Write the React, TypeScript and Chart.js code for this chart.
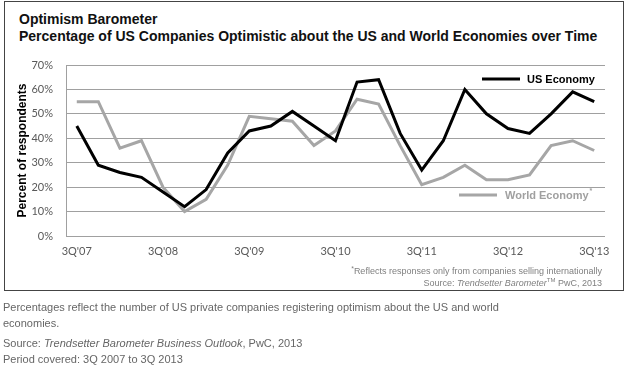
import React, { useEffect, useRef } from "react";
import { Chart, registerables } from "chart.js";

Chart.register(...registerables);

const quarters = [
  "3Q'07", "4Q'07", "1Q'08", "2Q'08", "3Q'08", "4Q'08", "1Q'09", "2Q'09",
  "3Q'09", "4Q'09", "1Q'10", "2Q'10", "3Q'10", "4Q'10", "1Q'11", "2Q'11",
  "3Q'11", "4Q'11", "1Q'12", "2Q'12", "3Q'12", "4Q'12", "1Q'13", "2Q'13", "3Q'13",
];
const usEconomy = [45, 29, 26, 24, 18, 12, 19, 34, 43, 45, 51, 45, 39, 63, 64, 42, 27, 39, 60, 50, 44, 42, 50, 59, 55];
const worldEconomy = [55, 55, 36, 39, 20, 10, 15, 29, 49, 48, 47, 37, 43, 56, 54, 37, 21, 24, 29, 23, 23, 25, 37, 39, 35];
const seriesNames = ["US Economy", "World Economy"];
const yMin = 0;
const yMax = 70;
const yStep = 10;

const US_COLOR = "#000000";
const WORLD_COLOR = "#a6a6a6";
const GRID_COLOR = "#a0a0a0";
const TICK_COLOR = "#595959";

export default function App() {
  const canvasRef = useRef<HTMLCanvasElement>(null);

  useEffect(() => {
    const canvas = canvasRef.current;
    if (!canvas) return;

    const inlineLegend = {
      id: "inlineLegend",
      afterDatasetsDraw(chart: any) {
        const { ctx, chartArea } = chart;
        const r = chartArea.right;
        const t = chartArea.top;
        const items = [
          { ds: chart.data.datasets[0], x1: r - 123, x2: r - 85, tx: r - 78, y: t + 14, color: "#000000", star: false },
          { ds: chart.data.datasets[1], x1: r - 146, x2: r - 108, tx: r - 100, y: t + 130, color: "#a0a0a0", star: true },
        ];
        ctx.save();
        for (const it of items) {
          ctx.strokeStyle = it.ds.borderColor;
          ctx.lineWidth = 3;
          ctx.lineCap = "butt";
          ctx.beginPath();
          ctx.moveTo(it.x1, it.y);
          ctx.lineTo(it.x2, it.y);
          ctx.stroke();
          ctx.font = "bold 11px 'Liberation Sans', Arial, sans-serif";
          ctx.fillStyle = it.color;
          ctx.textAlign = "left";
          ctx.textBaseline = "middle";
          ctx.fillText(it.ds.label, it.tx, it.y + 0.5);
          if (it.star) {
            const w = ctx.measureText(it.ds.label).width;
            ctx.font = "bold 7px 'Liberation Sans', Arial, sans-serif";
            ctx.fillText("*", it.tx + w + 1, it.y - 4);
          }
        }
        ctx.restore();
      },
    };

    const chart = new Chart(canvas, {
      type: "line",
      data: {
        labels: quarters,
        datasets: [
          {
            label: seriesNames[0],
            data: usEconomy,
            borderColor: US_COLOR,
            backgroundColor: US_COLOR,
            borderWidth: 3,
            pointRadius: 0,
            tension: 0,
            fill: false,
          },
          {
            label: seriesNames[1],
            data: worldEconomy,
            borderColor: WORLD_COLOR,
            backgroundColor: WORLD_COLOR,
            borderWidth: 3,
            pointRadius: 0,
            tension: 0,
            fill: false,
          },
        ],
      },
      options: {
        animation: false,
        responsive: false,
        maintainAspectRatio: false,
        layout: { padding: { left: 0, right: 25, top: 65, bottom: 34 } },
        plugins: {
          legend: { display: false },
          tooltip: { enabled: false },
          title: { display: false },
        },
        scales: {
          x: {
            type: "category",
            offset: true,
            grid: { display: false, drawTicks: false },
            border: { display: false },
            ticks: {
              autoSkip: false,
              maxRotation: 0,
              minRotation: 0,
              padding: 9,
              color: TICK_COLOR,
              font: { family: "Lato, 'Liberation Sans', sans-serif", size: 11 },
              callback: (_v: any, i: number) => (i % 4 === 0 ? quarters[i] : ""),
            },
            afterFit: (s: any) => {
              s.height = 30;
            },
          },
          y: {
            min: yMin,
            max: yMax,
            grid: { color: GRID_COLOR, lineWidth: 1, drawTicks: false },
            border: { display: true, color: GRID_COLOR, width: 1 },
            ticks: {
              stepSize: yStep,
              padding: 13,
              color: TICK_COLOR,
              font: { family: "Lato, 'Liberation Sans', sans-serif", size: 11 },
              callback: (v: any) => `${v}%`,
            },
            title: {
              display: true,
              text: "Percent of respondents",
              color: "#000000",
              font: { family: "'Liberation Sans', Arial, sans-serif", size: 12, weight: "bold" },
              padding: { top: 15, bottom: 0 },
            },
            afterFit: (s: any) => {
              s.width = 66;
            },
          },
        },
      },
      plugins: [inlineLegend],
    });

    return () => chart.destroy();
  }, []);

  const arial = "'Liberation Sans', Arial, sans-serif";

  return (
    <div style={{ position: "absolute", left: 0, top: 0, width: 630, height: 372, background: "#fff", fontFamily: arial }}>
      <div
        style={{
          position: "absolute",
          left: 4,
          top: 1,
          width: 620,
          height: 290,
          border: "1px solid #444",
          boxSizing: "border-box",
        }}
      />
      <div
        style={{
          position: "absolute",
          left: 19,
          top: 11,
          fontSize: 14,
          lineHeight: "17px",
          fontWeight: "bold",
          color: "#111",
          whiteSpace: "nowrap",
        }}
      >
        <div>Optimism Barometer</div>
        <div>Percentage of US Companies Optimistic about the US and World Economies over Time</div>
      </div>
      <canvas
        ref={canvasRef}
        width={630}
        height={300}
        style={{ position: "absolute", left: 0, top: 0, width: 630, height: 300 }}
      />
      <div
        style={{
          position: "absolute",
          right: 28,
          top: 265,
          fontSize: 9,
          lineHeight: "12px",
          color: "#808080",
          textAlign: "right",
          whiteSpace: "nowrap",
        }}
      >
        <div>
          <sup style={{ fontSize: 7, verticalAlign: "3px", lineHeight: 0 }}>*</sup>Reflects responses only from companies selling internationally
        </div>
        <div>
          Source: <i>Trendsetter Barometer</i>
          <sup style={{ fontSize: 6, verticalAlign: "4px", lineHeight: 0 }}>TM</sup> PwC, 2013
        </div>
      </div>
      <div
        style={{
          position: "absolute",
          left: 3,
          top: 299,
          width: 520,
          fontSize: 11,
          lineHeight: "16px",
          color: "#666",
        }}
      >
        <div>
          Percentages reflect the number of US private companies registering optimism about the US and world economies.
        </div>
        <div style={{ marginTop: 4 }}>
          Source: <i>Trendsetter Barometer Business Outlook</i>, PwC, 2013
        </div>
        <div>Period covered: 3Q 2007 to 3Q 2013</div>
      </div>
    </div>
  );
}
